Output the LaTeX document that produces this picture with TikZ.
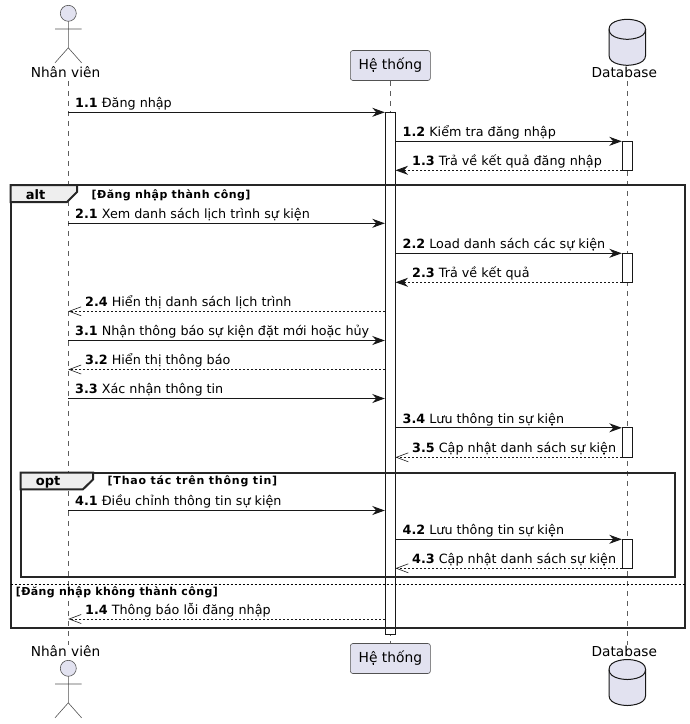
\documentclass[tikz,border=0pt]{standalone}
\usepackage{fontspec}
\setmainfont{DejaVu Sans}
\usetikzlibrary{arrows.meta}
\definecolor{partfill}{HTML}{E2E2F0}
\definecolor{ink}{HTML}{181818}
\definecolor{tabfill}{HTML}{EEEEEE}
\tikzset{
  lifeline/.style={draw=ink!70,line width=0.6pt,dash pattern=on 5pt off 5pt},
  actbox/.style={draw=ink,fill=white,line width=1pt},
  partbox/.style={draw=ink!75,line width=0.6pt,fill=partfill,rounded corners=2.5pt,minimum width=80pt,minimum height=30pt,inner sep=0pt,font=\fontsize{13.8}{16}\selectfont,text height=11pt,text depth=3pt},
  partlabel/.style={anchor=base,inner sep=0pt,font=\fontsize{13.7}{16}\selectfont},
  actorshape/.style={draw=ink!75,line width=0.6pt,fill=partfill},
  dbshape/.style={draw=ink,line width=1pt,fill=partfill},
  call/.style={draw=ink,line width=1pt,-{Stealth[length=12.5pt,width=9pt,inset=4pt,fill=ink]}},
  ret/.style={draw=ink,line width=0.9pt,dash pattern=on 2pt off 2pt,-{Stealth[length=12.5pt,width=9pt,inset=4pt,fill=ink]}},
  retopen/.style={draw=ink,line width=0.9pt,dash pattern=on 2pt off 2pt,-{Straight Barb[length=12pt,width=9pt,line width=0.6pt]}},
  msgtext/.style={anchor=base west,inner sep=0pt,font=\fontsize{12.75}{15}\selectfont},
  framebox/.style={draw=black!85,line width=2pt},
  tabbox/.style={draw=black!85,line width=2pt,fill=tabfill},
  tabtext/.style={anchor=base west,inner sep=0pt,font=\fontsize{13}{15}\selectfont\bfseries},
  guardtext/.style={anchor=base west,inner sep=0pt,font=\fontsize{11}{13}\selectfont\bfseries},
  sepline/.style={draw=black,line width=0.9pt,dash pattern=on 2pt off 2pt}
}
\newcommand{\msgline}[8]{%
  \coordinate (#1a) at (#3 |- 0,#2);
  \coordinate (#1b) at (#4 |- 0,#2);
  \draw[#5] (#1a) -- (#1b);
  \node[msgtext] (#1t) at (#6,#2-4.8) {\textbf{#7} #8};
}
\newcommand{\stickman}[1]{%
  \draw[actorshape] (68.3,#1) circle (8);
  \draw[actorshape,fill=none] (68.3,#1+8) -- (68.3,#1+34.5) (55,#1+15.7) -- (81.6,#1+15.7)
    (55,#1+49.5) -- (68.3,#1+34.5) -- (81.6,#1+49.5);
}
\newcommand{\dbdraw}[1]{%
  \draw[dbshape] (609,#1+10) .. controls (609,#1) and (627.3,#1) .. (627.3,#1)
    .. controls (627.3,#1) and (645.6,#1) .. (645.6,#1+10)
    -- (645.6,#1+36) .. controls (645.6,#1+46) and (627.3,#1+46) .. (627.3,#1+46)
    .. controls (627.3,#1+46) and (609,#1+46) .. (609,#1+36) -- cycle;
  \draw[dbshape,fill=none] (609,#1+10) .. controls (609,#1+20) and (627.3,#1+20) .. (627.3,#1+20)
    .. controls (627.3,#1+20) and (645.6,#1+20) .. (645.6,#1+10);
}
\begin{document}
\begin{tikzpicture}[x=1pt,y=-1pt]
\useasboundingbox (0,0) rectangle (690,724);
% columns
\coordinate (nv) at (68.3,0);
\coordinate (sys) at (390.4,0);
\coordinate (db) at (627.4,0);
\coordinate (sysL) at (384.8,0);
\coordinate (sysR) at (395.5,0);
\coordinate (dbL) at (621.8,0);
% participants
\node[partbox] (sysTop) at (390.4,65.5) {Hệ thống};
\node[partbox] (sysBot) at (390.4,658.5) {Hệ thống};
\coordinate (nvTopEnd) at (68.3,81);
\coordinate (nvBotEnd) at (68.3,645);
\coordinate (dbTopEnd) at (627.4,81);
\coordinate (dbBotEnd) at (627.4,645);
% lifelines
\draw[lifeline] (nvTopEnd) -- (nvBotEnd);
\draw[lifeline] (sysTop.south) -- (sysBot.north);
\draw[lifeline] (dbTopEnd) -- (dbBotEnd);
% activations
\draw[actbox] (385.4,112.3) rectangle (395.4,634.3);
\draw[actbox] (622.4,141.3) rectangle (632.4,170.3);
\draw[actbox] (622.4,253.3) rectangle (632.4,282.3);
\draw[actbox] (622.4,427.8) rectangle (632.4,457.3);
\draw[actbox] (622.4,539.3) rectangle (632.4,568.3);
% frames
\draw[framebox] (10.5,185) rectangle (684.5,627.5);
\draw[tabbox] (10.5,185) -- (77,185) -- (77,192) -- (67,202) -- (10.5,202) -- cycle;
\node[tabtext] (altLabel) at (25.7,199) {alt};
\node[guardtext] (altGuard) at (91.5,198) {\addfontfeature{LetterSpace=4}[Đăng nhập thành công]};
\draw[framebox] (20.5,472.5) rectangle (675,576.5);
\draw[tabbox] (20.5,472.5) -- (93,472.5) -- (93,479.5) -- (83,489.3) -- (20.5,489.3) -- cycle;
\node[tabtext] (optLabel) at (35.7,485) {opt};
\node[guardtext] (optGuard) at (107.5,484.3) {\addfontfeature{LetterSpace=7}[Thao tác trên thông tin]};
\coordinate (sepA) at (10.5,584.3);
\coordinate (sepB) at (684.5,584.3);
\draw[sepline] (sepA) -- (sepB);
\node[guardtext] (elseGuard) at (15.7,595) {\addfontfeature{LetterSpace=3.5}[Đăng nhập không thành công]};
% messages
\msgline{ma}{112.3}{nv}{sysL}{call}{75}{1.1}{Đăng nhập}
\msgline{mb}{141.3}{sysR}{dbL}{call}{402.5}{1.2}{Kiểm tra đăng nhập}
\msgline{mc}{170.3}{dbL}{sysR}{ret}{412}{1.3}{Trả về kết quả đăng nhập}
\msgline{md}{223.3}{nv}{sysL}{call}{75}{2.1}{Xem danh sách lịch trình sự kiện}
\msgline{me}{253.3}{sysR}{dbL}{call}{402.5}{2.2}{Load danh sách các sự kiện}
\msgline{mf}{282.3}{dbL}{sysR}{ret}{412}{2.3}{Trả về kết quả}
\msgline{mg}{311.3}{sysL}{nv}{retopen}{85}{2.4}{Hiển thị danh sách lịch trình}
\msgline{mh}{340.5}{nv}{sysL}{call}{75}{3.1}{Nhận thông báo sự kiện đặt mới hoặc hủy}
\msgline{mi}{369.5}{sysL}{nv}{retopen}{85}{3.2}{Hiển thị thông báo}
\msgline{mj}{398.5}{nv}{sysL}{call}{75}{3.3}{Xác nhận thông tin}
\msgline{mk}{427.8}{sysR}{dbL}{call}{402.5}{3.4}{Lưu thông tin sự kiện}
\msgline{ml}{457.3}{dbL}{sysR}{retopen}{412}{3.5}{Cập nhật danh sách sự kiện}
\msgline{mm}{510.5}{nv}{sysL}{call}{75}{4.1}{Điều chỉnh thông tin sự kiện}
\msgline{mn}{539.3}{sysR}{dbL}{call}{402.5}{4.2}{Lưu thông tin sự kiện}
\msgline{mo}{568.3}{dbL}{sysR}{retopen}{412}{4.3}{Cập nhật danh sách sự kiện}
\msgline{mp}{619}{sysL}{nv}{retopen}{85}{1.4}{Thông báo lỗi đăng nhập}
% actors and database
\stickman{13.3}
\stickman{668.3}
\dbdraw{19.3}
\dbdraw{659.5}
\node[partlabel] (nvTop) at (65.5,77.7) {Nhân viên};
\node[partlabel] (nvBot) at (65.5,656.7) {Nhân viên};
\node[partlabel] (dbTop) at (624.3,77.7) {Database};
\node[partlabel] (dbBot) at (624.3,656.7) {Database};
\end{tikzpicture}
\end{document}
